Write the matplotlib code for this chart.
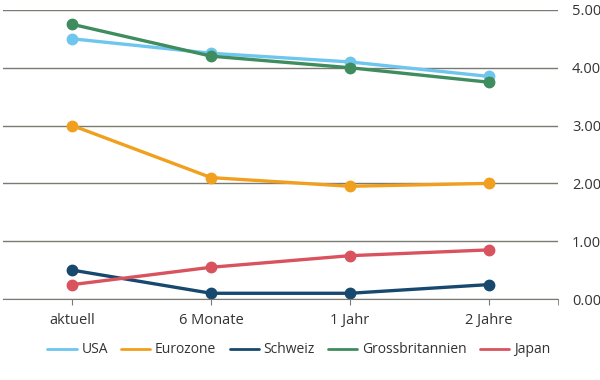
import numpy as np
import matplotlib.pyplot as plt

categories = ['aktuell', '6 Monate', '1 Jahr', '2 Jahre']
usa = [4.50, 4.25, 4.10, 3.85]
eurozone = [3.00, 2.10, 1.95, 2.00]
schweiz = [0.50, 0.10, 0.10, 0.25]
gb = [4.75, 4.20, 4.00, 3.75]
japan = [0.25, 0.55, 0.75, 0.85]

series = [
    ('USA', usa, '#6ec6ee'),
    ('Eurozone', eurozone, '#f0a01e'),
    ('Schweiz', schweiz, '#17496f'),
    ('Grossbritannien', gb, '#3f8c5e'),
    ('Japan', japan, '#d9535f'),
]

plt.rcParams['font.family'] = ['Open Sans', 'DejaVu Sans']

fig = plt.figure(figsize=(6, 3.8), dpi=100)
ax = fig.add_axes([0.005, 0.213, 0.925, 0.761])

x = np.arange(len(categories))
for name, vals, col in series:
    ax.plot(x, vals, color=col, lw=2.4, marker='o', ms=7.5, label=name,
            solid_capstyle='round')

ax.set_xlim(-0.5, 3.5)
ax.set_ylim(0, 5)
ax.set_yticks(np.arange(0, 5.01, 1))
ax.set_yticklabels(['%.2f' % v for v in np.arange(0, 5.01, 1)])
ax.yaxis.tick_right()
ax.grid(axis='y', color='#7a7a72', lw=1)
ax.set_axisbelow(True)
ax.set_xticks(x)
ax.set_xticklabels(categories)
ax.set_xticks([3.5], minor=True)
for s in ['top', 'left', 'right']:
    ax.spines[s].set_visible(False)
ax.spines['bottom'].set_color('#7a7a72')
ax.tick_params(axis='y', length=0, pad=10, labelsize=10.5, colors='#333333')
ax.tick_params(axis='x', which='both', length=4, color='#7a7a72', pad=6,
               labelsize=10.5, labelcolor='#333333')

leg = fig.legend(loc='center', bbox_to_anchor=(0.498, 0.079), ncol=5,
                 frameon=False, fontsize=10, handlelength=2.1,
                 columnspacing=0.95, handletextpad=0.35)
for h in leg.legend_handles:
    h.set_marker('')
    h.set_linewidth(2)
for t in leg.get_texts():
    t.set_color('#333333')

fig.savefig('out.png', dpi=100)
